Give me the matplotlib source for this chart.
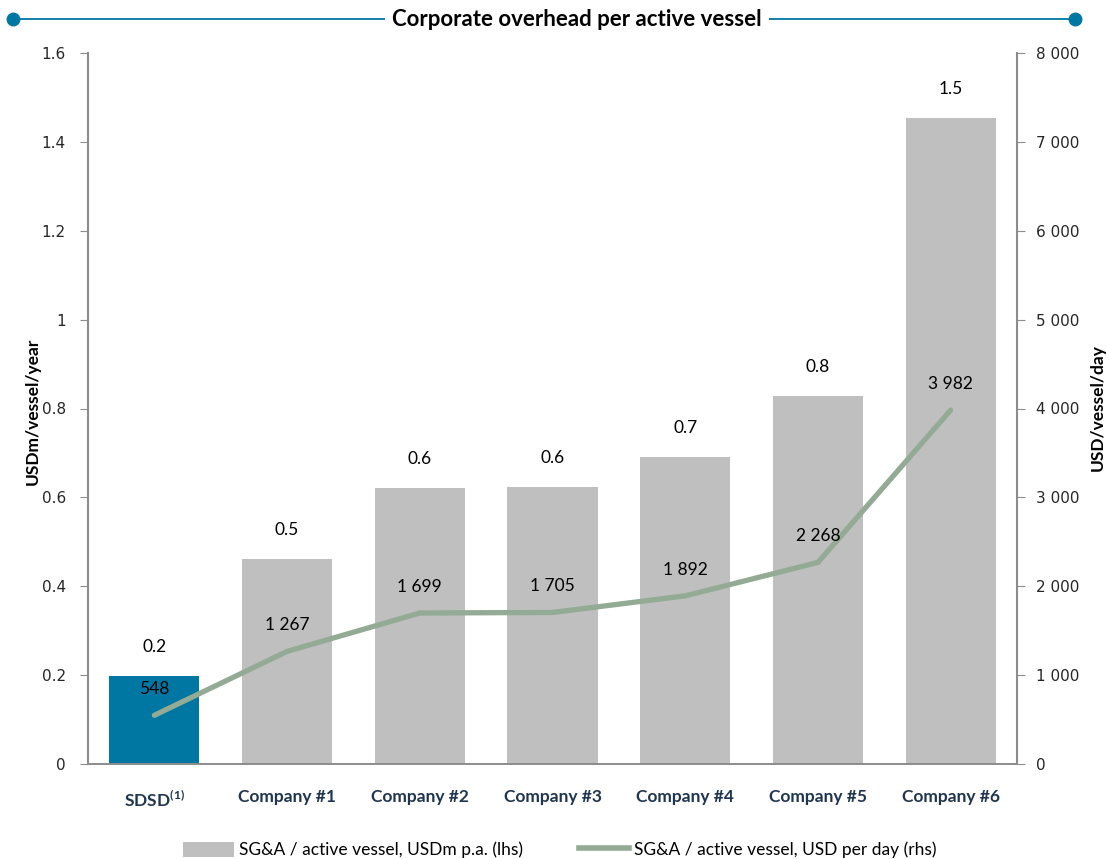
import matplotlib
matplotlib.use("Agg")
import matplotlib.pyplot as plt
import numpy as np
from matplotlib.lines import Line2D
from matplotlib.patches import Patch

plt.rcParams['font.family'] = ['Lato', 'DejaVu Sans']
plt.rcParams['mathtext.fontset'] = 'custom'
plt.rcParams['mathtext.rm'] = 'Lato'
plt.rcParams['mathtext.bf'] = 'Lato:bold'

categories = [r"$\mathbf{SDSD}^{\mathbf{(1)}}$", "Company #1", "Company #2", "Company #3",
              "Company #4", "Company #5", "Company #6"]
bar_values = [0.198, 0.461, 0.621, 0.623, 0.691, 0.828, 1.454]
bar_labels = ["0.2", "0.5", "0.6", "0.6", "0.7", "0.8", "1.5"]
line_values = [548, 1267, 1699, 1705, 1892, 2268, 3982]
line_labels = ["548", "1 267", "1 699", "1 705", "1 892", "2 268", "3 982"]
left_ticks = [0, 0.2, 0.4, 0.6, 0.8, 1.0, 1.2, 1.4, 1.6]
left_ticklabels = ["0", "0.2", "0.4", "0.6", "0.8", "1", "1.2", "1.4", "1.6"]
right_ticks = [0, 1000, 2000, 3000, 4000, 5000, 6000, 7000, 8000]
right_ticklabels = ["0", "1 000", "2 000", "3 000", "4 000", "5 000", "6 000", "7 000", "8 000"]

BLUE = "#0077A3"
GRAY = "#BFBFBF"
GREEN = "#93AA94"
SPINE = "#8C8C8C"
NAVY = "#1F3550"

fig = plt.figure(figsize=(11.06, 8.59), dpi=100)
ax = fig.add_axes([88/1106, 1-764/859, (1017-88)/1106, (764-53)/859])
ax2 = ax.twinx()

x = np.arange(len(categories))
colors = [BLUE] + [GRAY]*(len(categories)-1)
ax.bar(x, bar_values, width=0.68, color=colors, zorder=2)
ax.set_xlim(-0.5, len(categories)-0.5)
ax.set_ylim(0, 1.6)
ax.set_yticks(left_ticks)
ax.set_yticklabels(left_ticklabels, fontfamily='DejaVu Sans', fontsize=11, color='#262626')
ax.set_xticks(x)
ax.set_xticklabels(categories, fontsize=12.5, fontweight='bold', color=NAVY)
ax.tick_params(axis='x', length=0, pad=18)
ax.tick_params(axis='y', direction='out', length=6, color=SPINE, pad=10)

for xi, v, lab in zip(x, bar_values, bar_labels):
    ax.annotate(lab, (xi, v), xytext=(0, 15), textcoords='offset points',
                ha='center', va='bottom', fontsize=12.5, color='black')

ax2.set_ylim(0, 8000)
ax2.set_yticks(right_ticks)
ax2.set_yticklabels(right_ticklabels, fontfamily='DejaVu Sans', fontsize=11, color='#262626')
ax2.tick_params(axis='y', direction='out', length=6, color=SPINE, pad=8)

ax2.plot(x, line_values, color=GREEN, lw=3.8, solid_capstyle='round',
         solid_joinstyle='round', zorder=3)

for xi, v, lab in zip(x, line_values, line_labels):
    ax2.annotate(lab, (xi, v), xytext=(0, 13), textcoords='offset points',
                 ha='center', va='bottom', fontsize=12.5, color='black')

for a in (ax, ax2):
    a.spines['top'].set_visible(False)
    a.spines['left'].set_color(SPINE)
    a.spines['right'].set_color(SPINE)
    a.spines['bottom'].set_color(SPINE)
    a.spines['left'].set_linewidth(1.5)
    a.spines['right'].set_linewidth(1.5)
    a.spines['bottom'].set_linewidth(1.2)
ax.spines['right'].set_visible(False)
ax2.spines['left'].set_visible(False)

fig.text(33/1106, 1-411/859, "USDm/vessel/year", rotation=90, ha='center', va='center',
         fontsize=12.5, fontweight='bold', color='black')
fig.text(1098/1106, 1-408/859, "USD/vessel/day", rotation=90, ha='center', va='center',
         fontsize=12.5, fontweight='bold', color='black')

# title with decorative line
ty = 1-19/859
fig.add_artist(Line2D([13/1106, 1075/1106], [ty, ty], color=BLUE, lw=1.3, transform=fig.transFigure))
fig.add_artist(Line2D([13/1106], [ty], marker='o', markersize=9, color=BLUE, transform=fig.transFigure))
fig.add_artist(Line2D([1075/1106], [ty], marker='o', markersize=9, color=BLUE, transform=fig.transFigure))
fig.text(577/1106, ty, "Corporate overhead per active vessel", ha='center', va='center',
         fontsize=16, fontweight='bold', color='black',
         bbox=dict(facecolor='white', edgecolor='none', pad=5))

handles = [Patch(facecolor=GRAY, edgecolor='none'),
           Line2D([0], [0], color=GREEN, lw=4)]
fig.legend(handles, ["SG&A / active vessel, USDm p.a. (lhs)", "SG&A / active vessel, USD per day (rhs)"],
           loc='center', bbox_to_anchor=(560/1106, 1-850/859), ncol=2, frameon=False,
           fontsize=12.5, handlelength=2.9, handleheight=1.0, columnspacing=3.2, handletextpad=0.3)

fig.savefig("out.png", dpi=100)
